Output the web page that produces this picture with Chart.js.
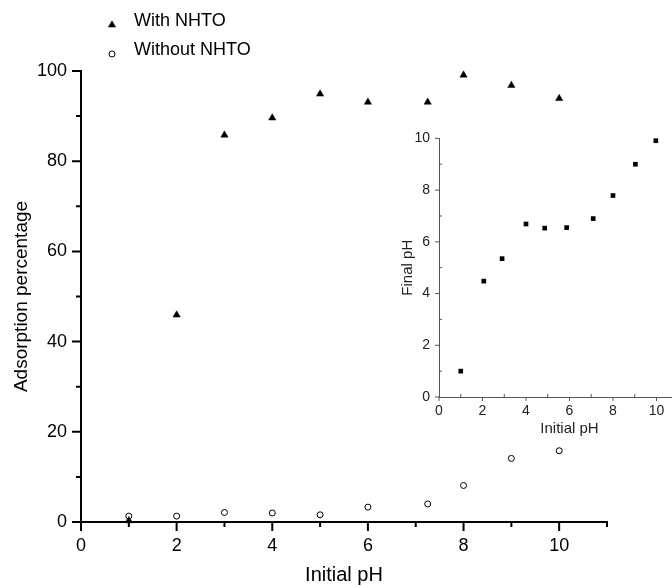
<!DOCTYPE html>
<html>
<head>
<meta charset="utf-8">
<title>Adsorption vs initial pH</title>
<script src="https://cdn.jsdelivr.net/npm/chart.js@4.4.0/dist/chart.umd.min.js"></script>
<style>
  html, body { margin: 0; padding: 0; overflow: hidden; background: #fff; }
  #wrap { position: relative; width: 672px; height: 587px; }
  #main_chart { position: absolute; left: 0; top: 0; }
  #inset_chart { position: absolute; left: 390px; top: 125px; }
</style>
</head>
<body>
<div id="wrap">
  <canvas id="main_chart" width="672" height="587"></canvas>
  <canvas id="inset_chart" width="320" height="315"></canvas>
</div>
<script>
// adsorption percentage against initial pH
var PH_WITH = [1, 2, 3, 4, 5, 6, 7.25, 8, 9, 10];
var ADS_WITH = [0.3, 45.9, 85.8, 89.6, 94.9, 93.1, 93.1, 99.1, 96.8, 93.9];
var PH_WITHOUT = [1, 2, 3, 4, 5, 6, 7.25, 8, 9, 10];
var ADS_WITHOUT = [1.3, 1.3, 2.1, 2.0, 1.6, 3.3, 4.0, 8.1, 14.1, 15.8];
var SERIES_NAMES = ["With NHTO", "Without NHTO"];

// inset: final pH against initial pH
var PH_INITIAL = [1, 2.06, 2.9, 4.0, 4.86, 5.87, 7.09, 8.0, 9.03, 9.97];
var PH_FINAL = [1.0, 4.48, 5.35, 6.69, 6.53, 6.55, 6.9, 7.79, 9.0, 9.91];

var FONT = "Arial, 'Liberation Sans', Helvetica, sans-serif";
Chart.defaults.font.family = FONT;
Chart.defaults.animation = false;

function toPoints(xs, ys) {
  return xs.map(function (x, i) { return { x: x, y: ys[i] }; });
}

// tick marks: long ones where there is a label, short ones in between
// (chart.js only knows one tick length, so they are drawn here)
var axisTicks = {
  id: 'axisTicks',
  afterDraw: function (chart, args, opts) {
    var ctx = chart.ctx;
    var area = chart.chartArea;
    ctx.save();
    ctx.strokeStyle = opts.color;
    ctx.lineWidth = opts.width;
    ctx.beginPath();
    ['x', 'y'].forEach(function (id) {
      var scale = chart.scales[id];
      var every = opts.every[id];
      scale.ticks.forEach(function (t) {
        var major = Math.abs(t.value % every) < 1e-9;
        var len = major ? opts.major : opts.minor;
        // minor marks point into the plot when asked to
        var dir = (!major && opts.minorInward) ? -1 : 1;
        var p = scale.getPixelForValue(t.value);
        if (id === 'x') {
          ctx.moveTo(p, area.bottom);
          ctx.lineTo(p, area.bottom + dir * len);
        } else {
          ctx.moveTo(area.left, p);
          ctx.lineTo(area.left - dir * len, p);
        }
      });
    });
    ctx.stroke();
    ctx.restore();
  }
};

// two-row legend above the plot, top left
var cornerLegend = {
  id: 'cornerLegend',
  afterDraw: function (chart) {
    var ctx = chart.ctx;
    ctx.save();
    chart.data.datasets.forEach(function (ds, i) {
      var y = 25 + i * 29;
      ctx.fillStyle = ds.backgroundColor;
      ctx.strokeStyle = ds.borderColor;
      ctx.lineWidth = ds.borderWidth;
      Chart.helpers.drawPoint(ctx, {
        pointStyle: ds.pointStyle,
        radius: ds.pointRadius,
        borderWidth: ds.borderWidth,
        rotation: 0
      }, 112, y);
      ctx.fillStyle = '#000';
      ctx.font = '18px ' + FONT;
      ctx.textBaseline = 'middle';
      ctx.textAlign = 'left';
      ctx.fillText(ds.label, 134, y - 4);
    });
    ctx.restore();
  }
};

var NO_TICK = 'rgba(0,0,0,0)';

var main_chart = new Chart(document.getElementById('main_chart'), {
  type: 'scatter',
  data: {
    datasets: [
      {
        label: SERIES_NAMES[0],
        data: toPoints(PH_WITH, ADS_WITH),
        pointStyle: 'triangle',
        pointRadius: 4.2,
        backgroundColor: '#000',
        borderColor: '#000',
        borderWidth: 0.5,
        clip: false
      },
      {
        label: SERIES_NAMES[1],
        data: toPoints(PH_WITHOUT, ADS_WITHOUT),
        pointStyle: 'circle',
        pointRadius: 3,
        backgroundColor: '#fff',
        borderColor: '#000',
        borderWidth: 1,
        clip: false
      }
    ]
  },
  options: {
    responsive: false,
    layout: { padding: { top: 71, right: 65, left: 0, bottom: 0 } },
    plugins: {
      legend: { display: false },
      tooltip: { enabled: false },
      axisTicks: { major: 9, minor: 5, minorInward: false, color: '#000', width: 2, every: { x: 2, y: 20 } }
    },
    scales: {
      x: {
        type: 'linear',
        min: 0,
        max: 11,
        afterFit: function (s) { s.height = 65; },
        border: { display: true, color: '#000', width: 2 },
        grid: { drawOnChartArea: false, tickLength: 9, tickColor: NO_TICK },
        ticks: {
          stepSize: 1,
          padding: 4,
          color: '#000',
          font: { size: 18 },
          maxRotation: 0,
          autoSkip: false,
          callback: function (v) { return v % 2 === 0 ? v : ''; }
        },
        title: { display: true, text: 'Initial pH', color: '#000', font: { size: 20 }, padding: { top: 0, bottom: 0 } }
      },
      y: {
        type: 'linear',
        min: 0,
        max: 100,
        afterFit: function (s) { s.width = 81; },
        border: { display: true, color: '#000', width: 2 },
        grid: { drawOnChartArea: false, tickLength: 9, tickColor: NO_TICK },
        ticks: {
          stepSize: 10,
          padding: 5,
          color: '#000',
          font: { size: 18 },
          autoSkip: false,
          callback: function (v) { return v % 20 === 0 ? v : ''; }
        },
        title: { display: true, text: 'Adsorption percentage', color: '#000', font: { size: 19 }, padding: { top: 10, bottom: 0 } }
      }
    }
  },
  plugins: [axisTicks, cornerLegend]
});

var inset_chart = new Chart(document.getElementById('inset_chart'), {
  type: 'scatter',
  data: {
    datasets: [{
      label: 'Final pH',
      data: toPoints(PH_INITIAL, PH_FINAL),
      pointStyle: 'rect',
      pointRadius: 3.3,
      backgroundColor: '#000',
      borderWidth: 0,
      clip: false
    }]
  },
  options: {
    responsive: false,
    layout: { padding: { top: 11, right: 10, left: 0, bottom: 0 } },
    plugins: {
      legend: { display: false },
      tooltip: { enabled: false },
      axisTicks: { major: 4, minor: 3, minorInward: true, color: '#555', width: 1, every: { x: 2, y: 2 } }
    },
    scales: {
      x: {
        type: 'linear',
        min: 0,
        max: 12,
        afterFit: function (s) { s.height = 43; },
        border: { display: true, color: '#555', width: 1 },
        grid: { drawOnChartArea: false, tickLength: 4, tickColor: NO_TICK },
        ticks: {
          stepSize: 1,
          padding: 2,
          color: '#222',
          font: { size: 14 },
          maxRotation: 0,
          autoSkip: false,
          callback: function (v) { return v % 2 === 0 && v <= 10 ? v : ''; }
        },
        title: { display: true, text: 'Initial pH', color: '#222', font: { size: 15 }, padding: { top: 0, bottom: 2 } }
      },
      y: {
        type: 'linear',
        min: 0,
        max: 10,
        afterFit: function (s) { s.width = 49; },
        border: { display: true, color: '#555', width: 1 },
        grid: { drawOnChartArea: false, tickLength: 4, tickColor: NO_TICK },
        ticks: {
          stepSize: 1,
          padding: 5,
          color: '#222',
          font: { size: 14 },
          autoSkip: false,
          callback: function (v) { return v % 2 === 0 ? v : ''; }
        },
        title: { display: true, text: 'Final pH', color: '#222', font: { size: 15 }, padding: { top: 9, bottom: 0 } }
      }
    }
  },
  plugins: [axisTicks]
});
</script>
</body>
</html>
